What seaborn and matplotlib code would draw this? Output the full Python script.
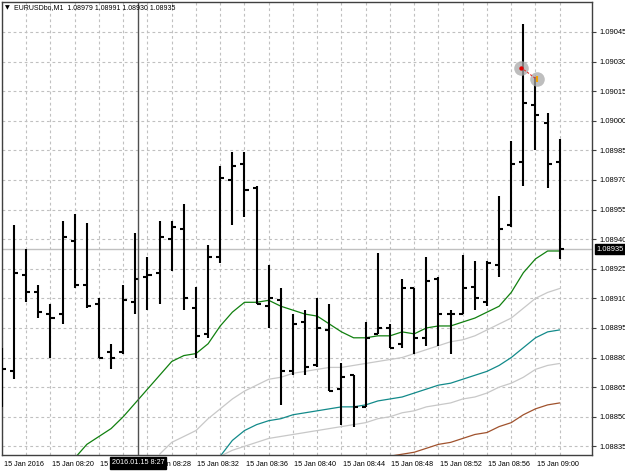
import numpy as np
import pandas as pd
import matplotlib
matplotlib.use("Agg")
import matplotlib.pyplot as plt
import matplotlib.transforms as mtrans
import seaborn as sns

# ---------------- data ----------------
bar_open = [1.08880, 1.08873, 1.08922, 1.08913, 1.08902, 1.08902, 1.08939, 1.08917, 1.08907, 1.08883,
            1.08883, 1.08908, 1.08921, 1.08923, 1.08940, 1.08945, 1.08905, 1.08892, 1.08931, 1.08970,
            1.08978, 1.08966, 1.08906, 1.08909, 1.08873, 1.08898, 1.08876, 1.08894, 1.08864, 1.08871,
            1.08855, 1.08892, 1.08895, 1.08887, 1.08915, 1.08890, 1.08920, 1.08902, 1.08902, 1.08916,
            1.08908, 1.08927, 1.08947, 1.08979, 1.09008, 1.08999, 1.08979]
bar_high = [1.08885, 1.08947, 1.08935, 1.08917, 1.08907, 1.08949, 1.08953, 1.08948, 1.08910, 1.08887,
            1.08917, 1.08943, 1.08931, 1.08949, 1.08949, 1.08958, 1.08916, 1.08937, 1.08977, 1.08984,
            1.08984, 1.08967, 1.08927, 1.08915, 1.08902, 1.08904, 1.08910, 1.08907, 1.08877, 1.08871,
            1.08898, 1.08933, 1.08897, 1.08920, 1.08915, 1.08931, 1.08921, 1.08904, 1.08932, 1.08929,
            1.08929, 1.08962, 1.08990, 1.09049, 1.09022, 1.09004, 1.08991]
bar_low = [1.08855, 1.08869, 1.08908, 1.08900, 1.08880, 1.08897, 1.08915, 1.08905, 1.08880, 1.08874,
           1.08882, 1.08902, 1.08904, 1.08907, 1.08924, 1.08904, 1.08880, 1.08890, 1.08928, 1.08947,
           1.08951, 1.08907, 1.08895, 1.08856, 1.08871, 1.08871, 1.08875, 1.08863, 1.08846, 1.08845,
           1.08855, 1.08892, 1.08885, 1.08885, 1.08882, 1.08886, 1.08886, 1.08882, 1.08902, 1.08904,
           1.08906, 1.08921, 1.08946, 1.08967, 1.08985, 1.08966, 1.08930]
bar_close = [1.08874, 1.08923, 1.08913, 1.08903, 1.08900, 1.08941, 1.08917, 1.08906, 1.08880, 1.08880,
             1.08909, 1.08920, 1.08922, 1.08941, 1.08946, 1.08910, 1.08891, 1.08931, 1.08971, 1.08977,
             1.08965, 1.08907, 1.08910, 1.08873, 1.08897, 1.08875, 1.08895, 1.08863, 1.08870, 1.08855,
             1.08890, 1.08895, 1.08885, 1.08915, 1.08890, 1.08919, 1.08902, 1.08902, 1.08915, 1.08910,
             1.08928, 1.08945, 1.08978, 1.09009, 1.09003, 1.08978, 1.08935]

ma_green_start = 6
ma_green = [1.08829, 1.08836, 1.08840, 1.08844, 1.08850, 1.08857, 1.08864, 1.08871, 1.08878, 1.08881,
            1.08882, 1.08887, 1.08896, 1.08903, 1.08908, 1.08908, 1.08909, 1.08906, 1.08904, 1.08902,
            1.08901, 1.08897, 1.08893, 1.08890, 1.08890, 1.08891, 1.08891, 1.08893, 1.08892, 1.08895,
            1.08896, 1.08896, 1.08898, 1.08900, 1.08903, 1.08906, 1.08913, 1.08923, 1.08930, 1.08934,
            1.08934]
ma_gray1_start = 13
ma_gray1 = [1.08831, 1.08837, 1.08840, 1.08843, 1.08849, 1.08854, 1.08859, 1.08863, 1.08866, 1.08869,
            1.08870, 1.08872, 1.08873, 1.08874, 1.08875, 1.08875, 1.08876, 1.08877, 1.08878, 1.08879,
            1.08880, 1.08882, 1.08884, 1.08886, 1.08888, 1.08889, 1.08891, 1.08894, 1.08897, 1.08900,
            1.08905, 1.08910, 1.08913, 1.08915]
ma_teal_start = 18
ma_teal = [1.08830, 1.08838, 1.08843, 1.08846, 1.08848, 1.08849, 1.08851, 1.08852, 1.08853, 1.08854,
           1.08855, 1.08855, 1.08856, 1.08858, 1.08859, 1.08860, 1.08862, 1.08864, 1.08866, 1.08867,
           1.08869, 1.08871, 1.08873, 1.08876, 1.08880, 1.08885, 1.08890, 1.08893, 1.08894]
ma_gray2_start = 18
ma_gray2 = [1.08830, 1.08833, 1.08835, 1.08837, 1.08839, 1.08840, 1.08841, 1.08842, 1.08843, 1.08844,
            1.08845, 1.08846, 1.08847, 1.08849, 1.08850, 1.08852, 1.08853, 1.08855, 1.08856, 1.08857,
            1.08859, 1.08860, 1.08862, 1.08865, 1.08867, 1.08870, 1.08874, 1.08876, 1.08877]
ma_brown_start = 32
ma_brown = [1.08830, 1.08831, 1.08832, 1.08834, 1.08836, 1.08837, 1.08839, 1.08841, 1.08842, 1.08845,
            1.08847, 1.08851, 1.08854, 1.08856, 1.08857]

y_ticks = [1.08835, 1.08850, 1.08865, 1.08880, 1.08895, 1.08910, 1.08925, 1.08940,
           1.08955, 1.08970, 1.08985, 1.09000, 1.09015, 1.09030, 1.09045]
x_tick_pos = [0, 4, 8, 12, 16, 20, 24, 28, 32, 36, 40, 44]
x_tick_labels = ["15 Jan 2016", "15 Jan 08:20", "15 Jan 08:24", "15 Jan 08:28", "15 Jan 08:32",
                 "15 Jan 08:36", "15 Jan 08:40", "15 Jan 08:44", "15 Jan 08:48", "15 Jan 08:52",
                 "15 Jan 08:56", "15 Jan 09:00"]
title_text = "EURUSDbo,M1  1.08979 1.08991 1.08930 1.08935"
bid_price = 1.08935
crosshair_pos = 11.25
crosshair_label = "2016.01.15 8:27"
trade_x = [42.8, 44.1]
trade_y = [1.09027, 1.09021]

# ---------------- style ----------------
sns.set_style("white")
plt.rcParams['font.family'] = ['Liberation Sans', 'DejaVu Sans']

W, H = 625, 471
fig = plt.figure(figsize=(W / 100, H / 100), dpi=100)
ax = fig.add_axes([2 / W, 1 - 455 / H, 590 / W, 453 / H])
ax.set_facecolor("white")

ax.set_xlim(0, 48.66)
ax.set_ylim(1.088306, 1.090602)

# grid
grid_kw = dict(color="#c0c0c0", linewidth=0.8, linestyle=(0, (2.5, 2.5)))
ax.set_xticks(x_tick_pos)
ax.set_xticks([p for p in range(2, 49, 4)], minor=True)
ax.set_yticks(y_ticks)
ax.grid(True, which="both", axis="x", **grid_kw)
ax.grid(True, which="major", axis="y", **grid_kw)
ax.set_axisbelow(True)

# bid line
ax.axhline(bid_price, color="#c0c0c0", linewidth=1.0, zorder=1)

# moving averages via seaborn
def ma_line(start, vals, color, lw=0.9):
    df = pd.DataFrame({"i": np.arange(start, start + len(vals)), "v": vals})
    sns.lineplot(data=df, x="i", y="v", color=color, linewidth=lw, ax=ax,
                 estimator=None, sort=False, zorder=2)

ma_line(ma_green_start, ma_green, "#11800f")
ma_line(ma_gray1_start, ma_gray1, "#c8c8c8")
ma_line(ma_teal_start, ma_teal, "#128a8a")
ma_line(ma_gray2_start, ma_gray2, "#c8c8c8")
ma_line(ma_brown_start, ma_brown, "#a0522d")

# OHLC bars
idx = np.arange(len(bar_open))
tick = 0.33
ax.vlines(idx, bar_low, bar_high, color="black", linewidth=1.5, zorder=3)
ax.hlines(bar_open, idx - tick, idx, color="black", linewidth=1.5, zorder=3)
ax.hlines(bar_close, idx, idx + tick, color="black", linewidth=1.5, zorder=3)

# crosshair
ax.axvline(crosshair_pos, color="#505050", linewidth=1.0, zorder=4)

# trade markers
ax.scatter(trade_x, trade_y, s=110, color="#a8a8a8", alpha=0.75, zorder=5, linewidths=0)
ax.plot(trade_x, trade_y, color="#e03030", linestyle=(0, (2, 1.5)), linewidth=0.8, zorder=6)
ax.scatter([trade_x[0]], [trade_y[0]], s=10, color="#e00000", marker="o", zorder=7, linewidths=0)
ax.scatter([trade_x[1] + 0.05], [trade_y[1]], s=14, color="#f0a000", marker="|", zorder=7, linewidths=1.5)

# axes frame and ticks
for s in ax.spines.values():
    s.set_visible(True)
    s.set_color("#404040")
    s.set_linewidth(1.0)
ax.yaxis.tick_right()
ax.tick_params(axis="y", which="major", length=3, width=0.8, color="#404040",
               labelsize=5.4, pad=2, labelcolor="black")
ax.tick_params(axis="x", which="major", length=3, width=0.8, color="#404040",
               labelsize=5.2, pad=1.5, labelcolor="black")
ax.tick_params(axis="x", which="minor", length=0)
ax.set_yticklabels([f"{v:.5f}" for v in y_ticks])
ax.set_xticklabels(x_tick_labels, ha="left")
ax.set_xlabel("")
ax.set_ylabel("")

offset = mtrans.ScaledTranslation(1.5 / 100, 0, fig.dpi_scale_trans)
for lab in ax.get_xticklabels():
    lab.set_transform(lab.get_transform() + offset)

# title
fig.text(5 / W, 1 - 8 / H, "▼", fontsize=4.5, va="center", ha="left",
         family=["DejaVu Sans"], color="black")
fig.text(14 / W, 1 - 8 / H, title_text, fontsize=5.0, va="center", ha="left", color="black")

# crosshair time label
fig.text(138 / W, 1 - 463 / H, crosshair_label, fontsize=5.2, va="center", ha="center",
         color="white", zorder=10,
         bbox=dict(boxstyle="square,pad=0.3", facecolor="black", edgecolor="black"))

# bid price label
yb = ax.transData.transform((0, bid_price))[1]
fig.text(596 / W, yb / H, f"{bid_price:.5f}", fontsize=5.4, va="center", ha="left",
         color="white", zorder=10,
         bbox=dict(boxstyle="square,pad=0.2", facecolor="black", edgecolor="black"))

fig.savefig("out.png", dpi=100, facecolor="white")
